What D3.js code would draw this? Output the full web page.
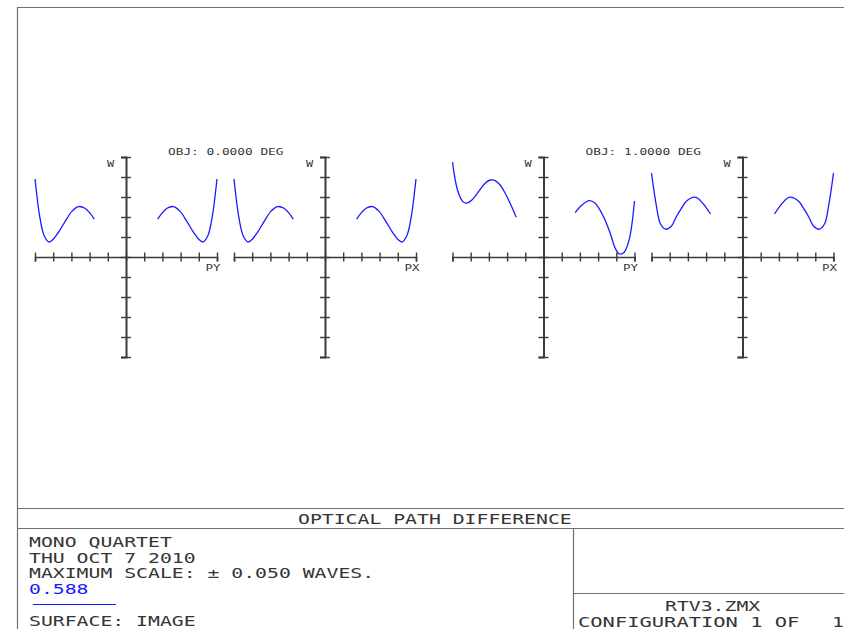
<!DOCTYPE html>
<html><head><meta charset="utf-8">
<script src="https://cdn.jsdelivr.net/npm/d3@7"></script>
<style>
html,body{margin:0;padding:0;background:#fff;}
svg{display:block;}
text{font-family:"DejaVu Sans Mono","Liberation Mono",monospace;fill:#353535;}
</style></head>
<body>
<script>
// ---- data ----
const fieldTitles = ["OBJ: 0.0000 DEG", "OBJ: 1.0000 DEG"];
const axisLabels = ["PY", "PX", "PY", "PX"];
const yTickValues = [-0.05,-0.04,-0.03,-0.02,-0.01,0,0.01,0.02,0.03,0.04,0.05];
const xTickValues = [-1,-0.8,-0.6,-0.4,-0.2,0,0.2,0.4,0.6,0.8,1];

// OBJ 0.0 deg, tangential (PY)
const f0PyLeftX  = [-1.0,-0.945,-0.898,-0.846,-0.799,-0.744,-0.670,-0.597,-0.524,-0.451,-0.396,-0.348];
const f0PyLeftW  = [0.0390,0.0194,0.0105,0.0075,0.0089,0.0122,0.0177,0.0227,0.0252,0.0244,0.0219,0.0189];
const f0PyRightX = [0.348,0.396,0.451,0.524,0.597,0.670,0.744,0.799,0.846,0.898,0.945,1.0];
const f0PyRightW = [0.0189,0.0219,0.0244,0.0252,0.0227,0.0177,0.0122,0.0089,0.0075,0.0105,0.0194,0.0390];
// OBJ 0.0 deg, sagittal (PX)
const f0PxLeftX  = [-1.0,-0.945,-0.898,-0.846,-0.799,-0.744,-0.670,-0.597,-0.524,-0.451,-0.396,-0.348];
const f0PxLeftW  = [0.0390,0.0194,0.0105,0.0075,0.0089,0.0122,0.0177,0.0227,0.0252,0.0244,0.0219,0.0189];
const f0PxRightX = [0.348,0.396,0.451,0.524,0.597,0.670,0.744,0.799,0.846,0.898,0.945,1.0];
const f0PxRightW = [0.0189,0.0219,0.0244,0.0252,0.0227,0.0177,0.0122,0.0089,0.0075,0.0105,0.0194,0.0390];
// OBJ 1.0 deg, tangential (PY)
const f1PyLeftX  = [-1.0,-0.945,-0.886,-0.849,-0.787,-0.714,-0.641,-0.586,-0.531,-0.476,-0.421,-0.358,-0.300];
const f1PyLeftW  = [0.0474,0.0335,0.0277,0.0269,0.0285,0.0327,0.0369,0.0385,0.0382,0.0360,0.0319,0.0260,0.0199];
const f1PyRightX = [0.348,0.422,0.502,0.568,0.659,0.733,0.788,0.835,0.887,0.945,1.0];
const f1PyRightW = [0.0222,0.0260,0.0282,0.0269,0.0202,0.0119,0.0044,0.0015,0.0024,0.0094,0.0280];
// OBJ 1.0 deg, sagittal (PX)
const f1PxLeftX  = [-1.0,-0.945,-0.901,-0.843,-0.780,-0.730,-0.670,-0.620,-0.535,-0.492,-0.437,-0.352];
const f1PxLeftW  = [0.0419,0.0252,0.0165,0.0139,0.0155,0.0199,0.0244,0.0277,0.0299,0.0294,0.0269,0.0215];
const f1PxRightX = [0.352,0.437,0.492,0.535,0.620,0.670,0.730,0.780,0.843,0.901,0.945,1.0];
const f1PxRightW = [0.0215,0.0269,0.0294,0.0299,0.0277,0.0244,0.0199,0.0155,0.0139,0.0165,0.0252,0.0419];

const infoLines = ["MONO QUARTET", "THU OCT 7 2010", "MAXIMUM SCALE: \u00b1 0.050 WAVES."];
const wavelengthLabel = "0.588";
const surfaceLabel = "SURFACE: IMAGE";
const chartTitle = "OPTICAL PATH DIFFERENCE";
const fileName = "RTV3.ZMX";
const configParts = ["CONFIGURATION 1 OF ", "1"];

// ---- layout ----
const W = 844, H = 629;
const svg = d3.select("body").append("svg").attr("width", W).attr("height", H);
const frameCol = "#707070";
const axisCol = "#3a3a3a";
const curveCol = "#1a1aff";

const panels = [
  {cx:126,   left:[f0PyLeftX,f0PyLeftW], right:[f0PyRightX,f0PyRightW], label:axisLabels[0]},
  {cx:325,   left:[f0PxLeftX,f0PxLeftW], right:[f0PxRightX,f0PxRightW], label:axisLabels[1]},
  {cx:543.5, left:[f1PyLeftX,f1PyLeftW], right:[f1PyRightX,f1PyRightW], label:axisLabels[2]},
  {cx:742.5, left:[f1PxLeftX,f1PxLeftW], right:[f1PxRightX,f1PxRightW], label:axisLabels[3]}
];
const halfW = 91, yTop = 157, yBot = 357;

function addText(str, x, y, size, adv, opts={}) {
  const t = svg.append("text").attr("x", x).attr("y", y)
    .style("font-size", size + "px").text(str);
  const n = str.length;
  t.attr("textLength", n * adv).attr("lengthAdjust", "spacingAndGlyphs");
  if (opts.fill) t.style("fill", opts.fill);
  return t;
}

panels.forEach((p, i) => {
  const x = d3.scaleLinear().domain([-1, 1]).range([p.cx - halfW, p.cx + halfW]);
  const y = d3.scaleLinear().domain([-0.05, 0.05]).range([yBot, yTop]);
  const g = svg.append("g");

  // horizontal axis
  const gx = g.append("g").attr("transform", `translate(0,${y(0)})`)
    .call(d3.axisBottom(x).tickValues(xTickValues).tickSizeOuter(0).tickSize(4.5).tickFormat(""));
  gx.select(".domain").attr("stroke", axisCol).attr("stroke-width", 1.6);
  gx.selectAll(".tick line").attr("y1", -4.5).attr("y2", 4.5).attr("stroke", axisCol).attr("stroke-width", 1.4);

  // vertical axis
  const gy = g.append("g").attr("transform", `translate(${x(0)},0)`)
    .call(d3.axisLeft(y).tickValues(yTickValues).tickSizeOuter(0).tickSize(5).tickFormat(""));
  gy.select(".domain").attr("stroke", axisCol).attr("stroke-width", 2);
  gy.selectAll(".tick line").attr("x1", -5).attr("x2", 5).attr("stroke", axisCol).attr("stroke-width", 1.4);

  const line = d3.line().x(d => x(d[0])).y(d => y(d[1])).curve(d3.curveCatmullRom.alpha(0.5));
  [p.left, p.right].forEach(seg => {
    const pts = seg[0].map((v, k) => [v, seg[1][k]]);
    g.append("path").attr("d", line(pts)).attr("fill", "none")
      .attr("stroke", curveCol).attr("stroke-width", 1.3);
  });

  addText("W", x(0) - 19, yTop + 9.5, 9.2, 7.2);
  addText(p.label, x(1) - 11.5, y(0) + 13.5, 9.2, 7.5);
});

addText(fieldTitles[0], 168, 154.5, 9.2, 7.7);
addText(fieldTitles[1], 585.5, 154.5, 9.2, 7.7);

// ---- frame ----
function hline(x1, x2, yy) { svg.append("line").attr("x1", x1).attr("x2", x2).attr("y1", yy).attr("y2", yy).attr("stroke", frameCol).attr("stroke-width", 1.2); }
function vline(xx, y1, y2) { svg.append("line").attr("x1", xx).attr("x2", xx).attr("y1", y1).attr("y2", y2).attr("stroke", frameCol).attr("stroke-width", 1.2); }
hline(17, 852, 7.5);
vline(17.5, 7, 629);
hline(17, 852, 508.5);
hline(17, 852, 528.5);
vline(573.5, 528, 629);
hline(573, 852, 593.5);

// ---- texts ----
const bigSize = 14.5, adv = 11.9;
addText(chartTitle, 298, 524.3, bigSize, adv);
infoLines.forEach((s, k) => addText(s, 29, 547 + k * 15.6, bigSize, adv));
addText(wavelengthLabel, 29, 594.2, bigSize, adv, {fill: "#1a1aff"});
svg.append("line").attr("x1", 33).attr("x2", 116).attr("y1", 604.5).attr("y2", 604.5)
  .attr("stroke", curveCol).attr("stroke-width", 1.2);
addText(surfaceLabel, 29, 626.3, bigSize, adv);
addText(fileName, 665, 611.2, bigSize, adv);

// configuration line: first part on a 12.3 px grid, final number further right
const cfg = svg.append("text").attr("y", 627).style("font-size", bigSize + "px");
cfg.append("tspan").attr("x", 578).text(configParts[0])
  .attr("textLength", configParts[0].length * 12.3).attr("lengthAdjust", "spacingAndGlyphs");
cfg.append("tspan").attr("x", 832).text(configParts[1])
  .attr("textLength", 11.9).attr("lengthAdjust", "spacingAndGlyphs");
</script>
</body></html>
